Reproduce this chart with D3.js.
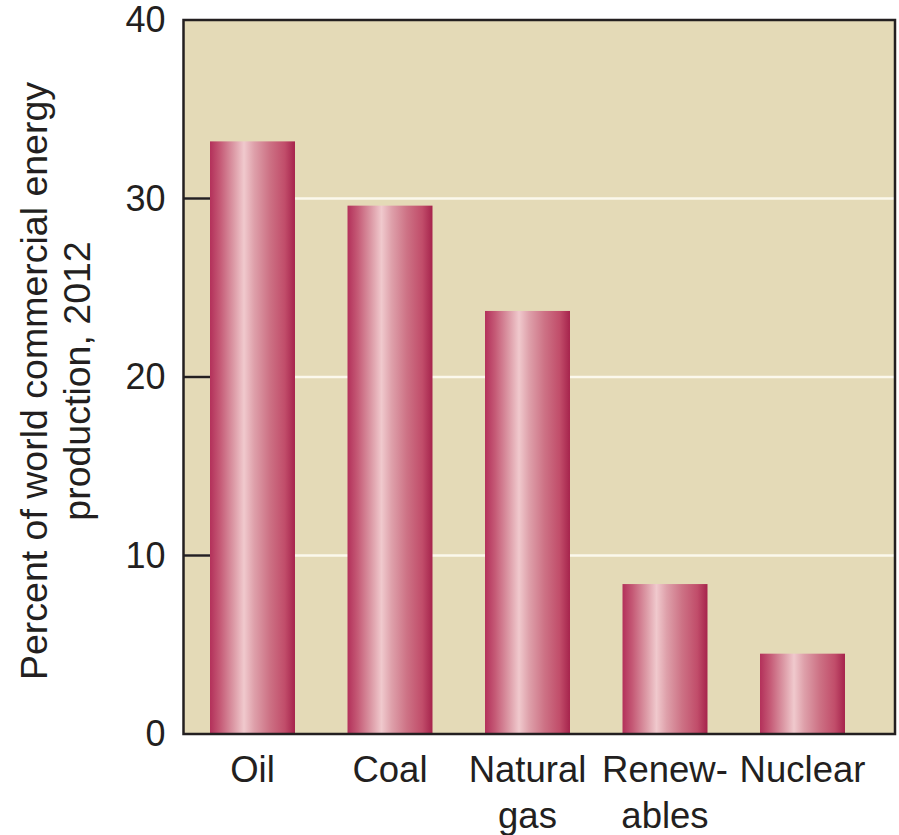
<!DOCTYPE html>
<html><head><meta charset="utf-8">
<script src="https://cdn.jsdelivr.net/npm/d3@7"></script>
<style>
html,body{margin:0;padding:0;background:#fff;}
svg{display:block;}
text{font-family:"Liberation Sans",Arial,Helvetica,sans-serif;fill:#231f20;}
</style></head>
<body>
<svg id="chart" width="899" height="835"></svg>
<script>
const categories = ["Oil", "Coal", "Natural gas", "Renewables", "Nuclear"];
const categoryLines = [["Oil"], ["Coal"], ["Natural", "gas"], ["Renew-", "ables"], ["Nuclear"]];
const values = [33.2, 29.6, 23.7, 8.4, 4.5];
const yTicks = [0, 10, 20, 30, 40];
const yLabelLines = ["Percent of world commercial energy", "production, 2012"];

const svg = d3.select("#chart");
const frame = {left: 183.5, right: 895, top: 20, bottom: 734};

const x = d3.scaleBand()
  .domain(categories)
  .range([183.75, 871.25])
  .paddingInner(0.382)
  .paddingOuter(0.191);
const y = d3.scaleLinear().domain([0, 40]).range([frame.bottom, frame.top]);

const defs = svg.append("defs");
const grad = defs.append("linearGradient").attr("id", "barGrad")
  .attr("x1", "0%").attr("x2", "100%").attr("y1", "0%").attr("y2", "0%");
[[0, "#b3305a"], [0.12, "#c55a76"], [0.28, "#dc9aa6"], [0.40, "#f0c9cd"], [0.52, "#dea0aa"],
 [0.70, "#cd7285"], [0.88, "#c14d6a"], [1, "#a6234c"]]
  .forEach(([o, c]) => grad.append("stop").attr("offset", o).attr("stop-color", c));

// plot background
svg.append("rect")
  .attr("x", frame.left).attr("y", frame.top)
  .attr("width", frame.right - frame.left).attr("height", frame.bottom - frame.top)
  .attr("fill", "#e4dab7");

// white gridlines
svg.append("g").selectAll("line")
  .data(yTicks.filter(d => d > 0 && d < 40))
  .join("line")
  .attr("x1", frame.left).attr("x2", frame.right)
  .attr("y1", d => y(d)).attr("y2", d => y(d))
  .attr("stroke", "#fbf8ec").attr("stroke-width", 2.5);

// inner tick marks (black)
svg.append("g").selectAll("line")
  .data(yTicks.filter(d => d > 0 && d < 40))
  .join("line")
  .attr("x1", frame.left).attr("x2", x(categories[0]))
  .attr("y1", d => y(d)).attr("y2", d => y(d))
  .attr("stroke", "#231f20").attr("stroke-width", 2.5);

// bars
svg.append("g").selectAll("rect")
  .data(values)
  .join("rect")
  .attr("x", (d, i) => x(categories[i]))
  .attr("y", d => y(d))
  .attr("width", x.bandwidth())
  .attr("height", d => y(0) - y(d))
  .attr("fill", "url(#barGrad)");

// frame
svg.append("rect")
  .attr("x", frame.left).attr("y", frame.top)
  .attr("width", frame.right - frame.left).attr("height", frame.bottom - frame.top)
  .attr("fill", "none").attr("stroke", "#231f20").attr("stroke-width", 2.5);

// y axis tick labels via d3 axis
const yAxis = d3.axisLeft(y).tickValues(yTicks).tickSize(0).tickPadding(18);
const gy = svg.append("g").attr("transform", `translate(${frame.left},0)`).call(yAxis);
gy.select(".domain").remove();
gy.selectAll("text").style("font-size", "36px").attr("fill", "#231f20")
  .style("font-family", '"Liberation Sans",Arial,sans-serif');

// x category labels
const xl = svg.append("g");
categories.forEach((c, i) => {
  const cx = x(c) + x.bandwidth() / 2;
  categoryLines[i].forEach((line, j) => {
    xl.append("text").attr("x", cx).attr("y", 782 + j * 46)
      .attr("text-anchor", "middle").style("font-size", "36.5px").text(line);
  });
});

// y axis label
const yl = svg.append("g").attr("transform", "translate(0,381) rotate(-90)");
yLabelLines.forEach((line, j) => {
  yl.append("text").attr("x", 0).attr("y", 47 + j * 43)
    .attr("text-anchor", "middle").style("font-size", "37.5px").text(line);
});
</script>
</body></html>
